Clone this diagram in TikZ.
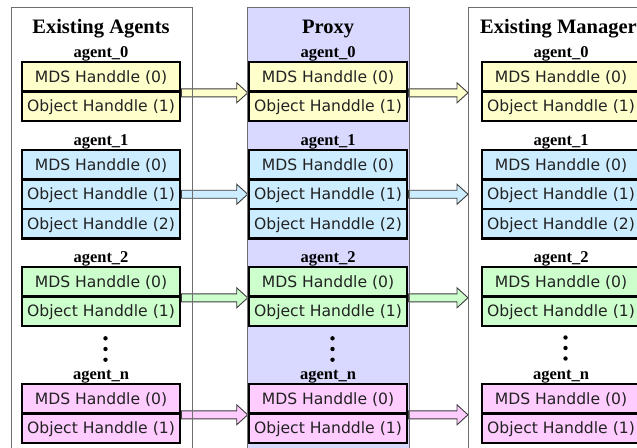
\documentclass[tikz,border=0pt]{standalone}
\usepackage{fontspec}
\setmainfont{Liberation Serif}
\newfontfamily\boxfont{DejaVu Sans}
\usetikzlibrary{calc}
\definecolor{proxyc}{RGB}{217,217,255}
\definecolor{yelc}{RGB}{255,255,204}
\definecolor{bluc}{RGB}{204,236,255}
\definecolor{grnc}{RGB}{204,255,204}
\definecolor{pnkc}{RGB}{255,204,255}
\definecolor{panelline}{RGB}{110,110,110}
\definecolor{arrline}{RGB}{60,60,60}
\definecolor{textc}{RGB}{34,34,34}
\tikzset{
  rowbox/.style={draw=black, line width=2.6pt, minimum width=158pt, minimum height=29.5pt,
    inner sep=0pt, font=\boxfont\fontsize{15.6}{18}\selectfont, text height=11.3pt, text depth=0pt, text=textc},
  agentlabel/.style={anchor=base, inner sep=0pt, font=\bfseries\fontsize{16.5}{19}\selectfont},
  paneltitle/.style={anchor=base, inner sep=0pt, font=\bfseries\fontsize{20.5}{24}\selectfont},
  blockarr/.style={draw=arrline, line width=0.9pt, line join=miter},
  panelborder/.style={draw=panelline, line width=0.9pt},
  vdot/.style={fill=black, draw=none}
}
\newcommand\blkarrow[3]{%
  \path[blockarr, fill=#3] let \p1=(#1), \p2=(#2) in
    (\x1,\y1+4pt) -- (\x2-11pt,\y1+4pt) -- (\x2-11pt,\y1+10pt) -- (\x2,\y1)
    -- (\x2-11pt,\y1-10pt) -- (\x2-11pt,\y1-4pt) -- (\x1,\y1-4pt) -- cycle;}
\begin{document}
\begin{tikzpicture}[x=1pt,y=-1pt]
\useasboundingbox (0,0) rectangle (637,447);
% panel fills
\fill[white] (11,7) rectangle (192,460);
\fill[proxyc] (247,7) rectangle (409,460);
\fill[white] (468,7) rectangle (660,460);
\coordinate (rpanel) at (468,7);

% titles
\node[paneltitle] (tA) at (101,33) {Existing Agents};
\node[paneltitle] (tP) at (328,33) {Proxy};
\node[paneltitle, anchor=base west] (tM) at (480,33) {Existing Manager};

% ---- left column (x=101)
\node[agentlabel] (la0) at (101,57) {agent\_0};
\node[rowbox, fill=yelc] (a0r1) at (101,76.75) {MDS Handdle (0)};
\node[rowbox, fill=yelc] (a0r2) at (101,106.25) {Object Handdle (1)};
\node[agentlabel] (la1) at (101,145) {agent\_1};
\node[rowbox, fill=bluc] (a1r1) at (101,164.75) {MDS Handdle (0)};
\node[rowbox, fill=bluc] (a1r2) at (101,194.25) {Object Handdle (1)};
\node[rowbox, fill=bluc] (a1r3) at (101,223.75) {Object Handdle (2)};
\node[agentlabel] (la2) at (101,262) {agent\_2};
\node[rowbox, fill=grnc] (a2r1) at (101,281.75) {MDS Handdle (0)};
\node[rowbox, fill=grnc] (a2r2) at (101,311.25) {Object Handdle (1)};
\fill[vdot] (105.5,338.3) circle (2.2) (105.5,349) circle (2.2) (105.5,359.7) circle (2.2);
\node[agentlabel] (lan) at (101,379.5) {agent\_n};
\node[rowbox, fill=pnkc] (anr1) at (101,398.75) {MDS Handdle (0)};
\node[rowbox, fill=pnkc] (anr2) at (101,428.25) {Object Handdle (1)};

% ---- proxy column (x=328)
\node[agentlabel] (pla0) at (328,57) {agent\_0};
\node[rowbox, fill=yelc] (p0r1) at (328,76.75) {MDS Handdle (0)};
\node[rowbox, fill=yelc] (p0r2) at (328,106.25) {Object Handdle (1)};
\node[agentlabel] (pla1) at (328,145) {agent\_1};
\node[rowbox, fill=bluc] (p1r1) at (328,164.75) {MDS Handdle (0)};
\node[rowbox, fill=bluc] (p1r2) at (328,194.25) {Object Handdle (1)};
\node[rowbox, fill=bluc] (p1r3) at (328,223.75) {Object Handdle (2)};
\node[agentlabel] (pla2) at (328,262) {agent\_2};
\node[rowbox, fill=grnc] (p2r1) at (328,281.75) {MDS Handdle (0)};
\node[rowbox, fill=grnc] (p2r2) at (328,311.25) {Object Handdle (1)};
\fill[vdot] (332.5,338.3) circle (2.2) (332.5,349) circle (2.2) (332.5,359.7) circle (2.2);
\node[agentlabel] (plan) at (328,379.5) {agent\_n};
\node[rowbox, fill=pnkc] (pnr1) at (328,398.75) {MDS Handdle (0)};
\node[rowbox, fill=pnkc] (pnr2) at (328,428.25) {Object Handdle (1)};

% ---- manager column (x=561)
\node[agentlabel] (mla0) at (561,57) {agent\_0};
\node[rowbox, fill=yelc] (m0r1) at (561,76.75) {MDS Handdle (0)};
\node[rowbox, fill=yelc] (m0r2) at (561,106.25) {Object Handdle (1)};
\node[agentlabel] (mla1) at (561,145) {agent\_1};
\node[rowbox, fill=bluc] (m1r1) at (561,164.75) {MDS Handdle (0)};
\node[rowbox, fill=bluc] (m1r2) at (561,194.25) {Object Handdle (1)};
\node[rowbox, fill=bluc] (m1r3) at (561,223.75) {Object Handdle (2)};
\node[agentlabel] (mla2) at (561,262) {agent\_2};
\node[rowbox, fill=grnc] (m2r1) at (561,281.75) {MDS Handdle (0)};
\node[rowbox, fill=grnc] (m2r2) at (561,311.25) {Object Handdle (1)};
\fill[vdot] (565.5,337.5) circle (2.2) (565.5,348) circle (2.2) (565.5,358.5) circle (2.2);
\node[agentlabel] (mlan) at (561,379.5) {agent\_n};
\node[rowbox, fill=pnkc] (mnr1) at (561,398.75) {MDS Handdle (0)};
\node[rowbox, fill=pnkc] (mnr2) at (561,428.25) {Object Handdle (1)};

% ---- arrows
\blkarrow{a0r1.south east}{p0r1.south west}{yelc}
\blkarrow{a1r2.east}{p1r2.west}{bluc}
\blkarrow{a2r1.south east}{p2r1.south west}{grnc}
\blkarrow{anr1.south east}{pnr1.south west}{pnkc}
\blkarrow{p0r1.south east}{rpanel}{yelc}
\blkarrow{p1r2.east}{rpanel}{bluc}
\blkarrow{p2r1.south east}{rpanel}{grnc}
\blkarrow{pnr1.south east}{rpanel}{pnkc}

% panel borders on top
\draw[panelborder] (11,460) -- (11,7) -- (192,7) -- (192,460);
\draw[panelborder] (247,460) -- (247,7) -- (409,7) -- (409,460);
\draw[panelborder] (468,460) -- (468,7) -- (660,7);
\end{tikzpicture}
\end{document}
